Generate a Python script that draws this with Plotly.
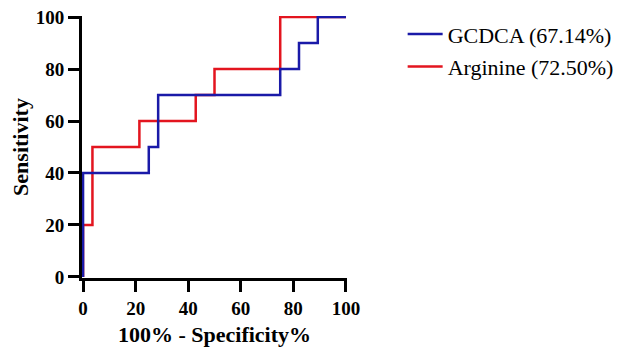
import plotly.graph_objects as go

# ROC points: 100% - Specificity% (x) and Sensitivity (y)
gcdca_fpr = [0, 0, 25, 25, 28.57, 28.57, 75, 75, 82.14, 82.14, 89.29, 89.29, 100]
gcdca_sens = [0, 40, 40, 50, 50, 70, 70, 80, 80, 90, 90, 100, 100]

arg_fpr = [0, 0, 3.571, 3.571, 21.43, 21.43, 42.86, 42.86, 50, 50, 75, 75, 100]
arg_sens = [0, 20, 20, 50, 50, 60, 60, 70, 70, 80, 80, 100, 100]

gcdca_name = "GCDCA (67.14%)"
arg_name = "Arginine (72.50%)"

tick_vals = [0, 20, 40, 60, 80, 100]

blue = "#1a1aa8"
red = "#e3151f"
serif = "Liberation Serif"

fig = go.Figure()
fig.add_trace(go.Scatter(x=arg_fpr, y=arg_sens, mode="lines", name=arg_name,
                         line=dict(color=red, width=2.5), legendrank=2, legendgroup="b"))
fig.add_trace(go.Scatter(x=gcdca_fpr, y=gcdca_sens, mode="lines", name=gcdca_name,
                         line=dict(color=blue, width=2.5), legendrank=1, legendgroup="a"))

axis_font = dict(family=serif, size=19, color="black", weight="bold")
title_font = dict(family=serif, size=22, color="black", weight="bold")

fig.update_layout(
    width=616, height=350,
    margin=dict(l=74, r=276, t=5, b=80),
    paper_bgcolor="white", plot_bgcolor="white",
    showlegend=True,
    font=dict(family=serif),
    legend=dict(x=1.21, y=1.011, xanchor="left", yanchor="top",
                font=dict(family=serif, size=22, color="black"),
                itemwidth=35, tracegroupgap=1, bgcolor="rgba(0,0,0,0)"),
    xaxis=dict(range=[-0.4, 100.4], tickvals=tick_vals, ticks="outside", ticklen=11, tickwidth=2.5,
               tickcolor="black", showline=True, linecolor="black", linewidth=2.7,
               showgrid=False, zeroline=False, tickfont=axis_font, ticklabeloverflow="allow",
               title=dict(text="100% - Specificity%", font=title_font, standoff=9),
               automargin=False),
    yaxis=dict(range=[-0.4, 100.4], tickvals=tick_vals, ticks="outside", ticklen=11, tickwidth=2.5,
               tickcolor="black", showline=True, linecolor="black", linewidth=2.7,
               showgrid=False, zeroline=False, tickfont=axis_font, ticklabeloverflow="allow",
               title=dict(text="Sensitivity", font=title_font, standoff=14),
               automargin=False),
)

fig.write_html("out.html")
